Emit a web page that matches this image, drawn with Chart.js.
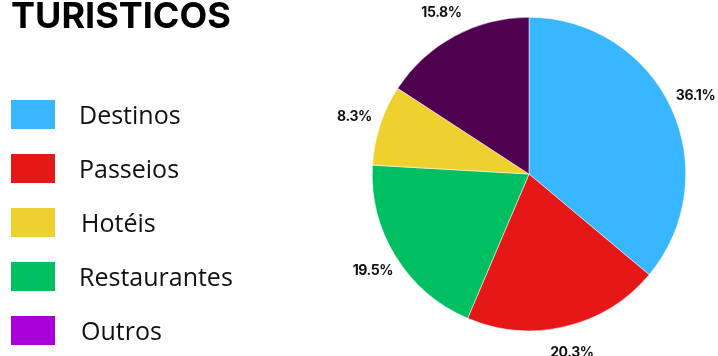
<!DOCTYPE html>
<html lang="pt">
<head>
    <meta charset="UTF-8">
    <title>Turisticos</title>
    <style>
        html, body {
            margin: 0;
            padding: 0;
            background: #fff;
        }

        .page {
            position: relative;
            width: 718px;
            height: 356px;
            overflow: hidden;
        }

        .title {
            position: absolute;
            left: 11px;
            top: -6px;
            margin: 0;
            font-family: Inter, sans-serif;
            font-weight: 700;
            font-size: 36px;
            line-height: 1.2;
            color: #000;
            white-space: nowrap;
        }

        .legend {
            position: absolute;
            left: 11px;
            top: 100px;
            margin: 0;
            padding: 0;
            list-style: none;
        }

        .legend li {
            display: flex;
            align-items: center;
            height: 29px;
            margin-bottom: 25px;
        }

        .legend .box {
            width: 44px;
            height: 29px;
            margin-right: 24px;
        }

        .legend li:nth-child(3) .text,
        .legend li:nth-child(5) .text {
            margin-left: 2px;
        }

        .legend .text {
            font-family: "Open Sans", sans-serif;
            font-size: 25px;
            color: #111;
            position: relative;
            top: -1px;
        }

        canvas {
            position: absolute;
            left: 0;
            top: 0;
        }
    </style>
</head>
<body>
    <div class="page">
        <canvas id="pieChart" width="718" height="356"></canvas>
        <h1 class="title">TURISTICOS</h1>
        <ul class="legend" id="legend"></ul>
    </div>

    <script src="https://cdn.jsdelivr.net/npm/chart.js"></script>

    <script>
        // Slices, clockwise from the top
        const sliceLabels = ['Destinos', 'Passeios', 'Restaurantes', 'Hotéis', 'Outros'];
        const sliceValues = [36.1, 20.3, 19.5, 8.3, 15.8];
        const sliceColors = ['#38b6ff', '#e51717', '#00bf63', '#eed12f', '#4f004f'];

        // Legend entries on the left
        const legendLabels = ['Destinos', 'Passeios', 'Hotéis', 'Restaurantes', 'Outros'];
        const legendColors = ['#38b6ff', '#e51717', '#eed12f', '#00bf63', '#a800d8'];

        // Build the legend list
        const legendEl = document.getElementById('legend');
        legendLabels.forEach((label, i) => {
            const li = document.createElement('li');
            const box = document.createElement('span');
            box.className = 'box';
            box.style.background = legendColors[i];
            const text = document.createElement('span');
            text.className = 'text';
            text.textContent = label;
            li.appendChild(box);
            li.appendChild(text);
            legendEl.appendChild(li);
        });

        // Percentage labels outside each slice
        const outsideLabels = {
            id: 'outsideLabels',
            afterDatasetsDraw(chart) {
                const ctx = chart.ctx;
                const meta = chart.getDatasetMeta(0);
                const values = chart.data.datasets[0].data;
                ctx.save();
                ctx.font = '700 14px Inter, sans-serif';
                ctx.letterSpacing = '-0.4px';
                ctx.fillStyle = '#111';
                ctx.textAlign = 'center';
                ctx.textBaseline = 'middle';
                meta.data.forEach((arc, i) => {
                    const mid = (arc.startAngle + arc.endAngle) / 2;
                    const r = arc.outerRadius + 27;
                    const x = arc.x + Math.cos(mid) * r;
                    const y = arc.y + Math.sin(mid) * r;
                    ctx.fillText(values[i].toFixed(1) + '%', x, y);
                });
                ctx.restore();
            }
        };

        const ctx = document.getElementById('pieChart').getContext('2d');

        new Chart(ctx, {
            type: 'pie',
            data: {
                labels: sliceLabels,
                datasets: [{
                    data: sliceValues,
                    backgroundColor: sliceColors,
                    borderColor: '#ffffff',
                    borderWidth: 0.5
                }]
            },
            options: {
                responsive: false,
                animation: false,
                layout: {
                    padding: { left: 372, right: 32, top: 17, bottom: 25 }
                },
                plugins: {
                    legend: { display: false },
                    tooltip: { enabled: false }
                }
            },
            plugins: [outsideLabels]
        });
    </script>
</body>
</html>
